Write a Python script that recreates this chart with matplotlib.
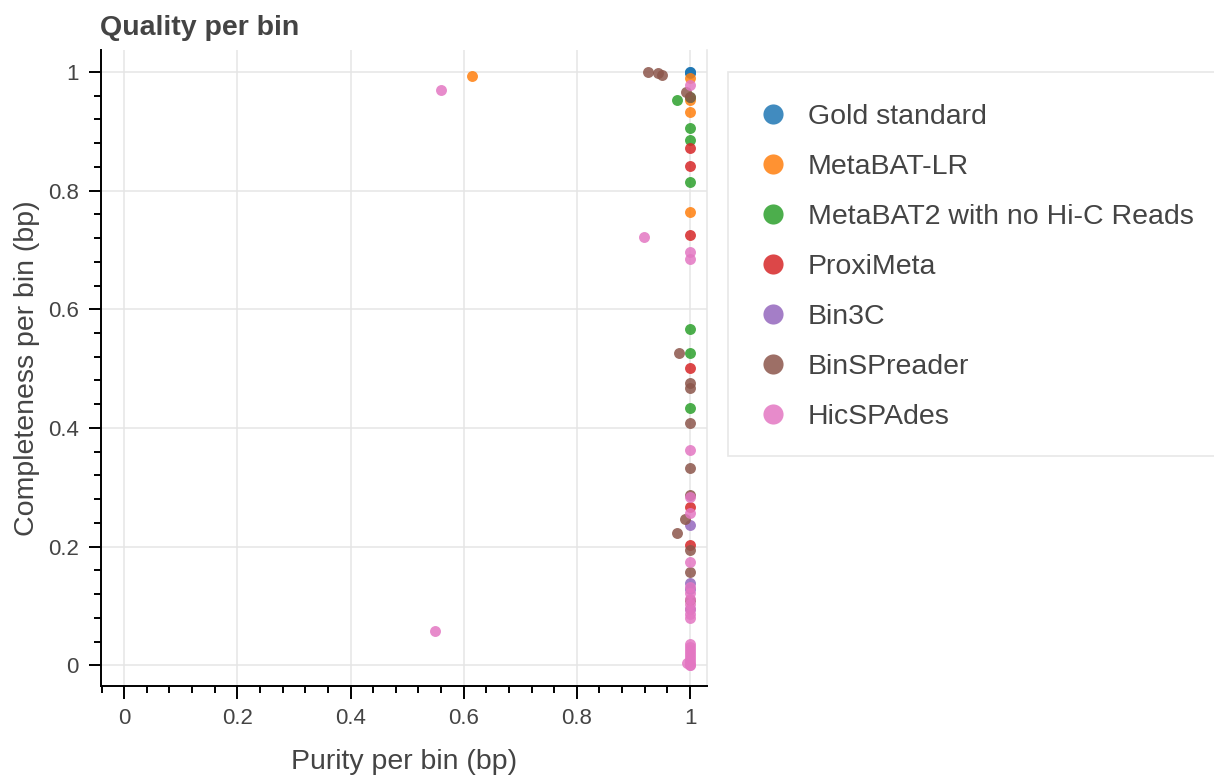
import matplotlib
matplotlib.use("Agg")
import matplotlib.pyplot as plt
from matplotlib.lines import Line2D
from matplotlib.patches import Rectangle
from matplotlib.ticker import MultipleLocator, FuncFormatter

plt.rcParams['font.family'] = ['Liberation Sans', 'DejaVu Sans']

# series names and colours (Category10)
names = ['Gold standard', 'MetaBAT-LR', 'MetaBAT2 with no Hi-C Reads',
         'ProxiMeta', 'Bin3C', 'BinSPreader', 'HicSPAdes']
colors = ['#1f77b4', '#ff7f0e', '#2ca02c', '#d62728', '#9467bd', '#8c564b', '#e377c2']

# purity / completeness per bin
gold_purity = [1.0, 1.0, 1.0]
gold_compl = [1.0, 1.0, 0.998]

metabat_lr_purity = [0.615, 1.0, 1.0, 1.0, 1.0]
metabat_lr_compl = [0.993, 0.99, 0.953, 0.933, 0.764]

metabat2_purity = [0.977, 1.0, 1.0, 1.0, 1.0, 1.0, 1.0, 1.0]
metabat2_compl = [0.953, 0.958, 0.906, 0.886, 0.814, 0.566, 0.527, 0.434]

proximeta_purity = [1.0, 1.0, 1.0, 1.0, 1.0, 1.0]
proximeta_compl = [0.872, 0.842, 0.726, 0.501, 0.266, 0.202]

bin3c_purity = [1.0, 1.0, 1.0, 1.0]
bin3c_compl = [0.236, 0.138, 0.128, 0.094]

binspreader_purity = [0.926, 0.944, 0.950, 0.993, 1.0, 0.981, 1.0, 1.0, 1.0,
                      1.0, 1.0, 0.991, 0.977, 1.0, 1.0, 1.0]
binspreader_compl = [1.0, 0.999, 0.995, 0.966, 0.958, 0.526, 0.476, 0.468, 0.408,
                     0.333, 0.287, 0.247, 0.223, 0.194, 0.157, 0.11]

hicspades_purity = [0.560, 1.0, 0.918, 1.0, 1.0, 1.0, 1.0, 1.0, 1.0, 1.0, 1.0,
                    1.0, 1.0, 1.0, 1.0, 1.0, 0.549, 1.0, 1.0, 1.0, 1.0, 1.0,
                    1.0, 1.0, 0.995, 1.0, 1.0]
hicspades_compl = [0.970, 0.978, 0.721, 0.697, 0.685, 0.363, 0.283, 0.256, 0.174,
                   0.132, 0.122, 0.112, 0.104, 0.095, 0.087, 0.08, 0.057, 0.035,
                   0.03, 0.025, 0.02, 0.015, 0.01, 0.006, 0.003, 0.0, 0.0]

series = [(gold_purity, gold_compl), (metabat_lr_purity, metabat_lr_compl),
          (metabat2_purity, metabat2_compl), (proximeta_purity, proximeta_compl),
          (bin3c_purity, bin3c_compl), (binspreader_purity, binspreader_compl),
          (hicspades_purity, hicspades_compl)]

W, H = 1214, 782
fig = plt.figure(figsize=(W / 100, H / 100), dpi=100)
ax = fig.add_axes([101 / W, 1 - 686 / H, 606 / W, 636 / H])

for (px, cy), c in zip(series, colors):
    ax.scatter(px, cy, s=62, color=c, alpha=0.85, linewidths=0, zorder=3)

ax.set_xlim(-0.041, 1.030)
ax.set_ylim(-0.035, 1.037)

ax.xaxis.set_major_locator(MultipleLocator(0.2))
ax.yaxis.set_major_locator(MultipleLocator(0.2))
ax.xaxis.set_minor_locator(MultipleLocator(0.04))
ax.yaxis.set_minor_locator(MultipleLocator(0.04))
fmt = FuncFormatter(lambda v, p: '{:g}'.format(round(v, 2)))
ax.xaxis.set_major_formatter(fmt)
ax.yaxis.set_major_formatter(fmt)

ax.grid(True, which='major', color='#e5e5e5', linewidth=1.1, zorder=0)
ax.set_axisbelow(True)
ax.tick_params(which='major', direction='out', length=9, width=1.4,
               labelsize=16, labelcolor='#444444', pad=7)
ax.tick_params(which='minor', direction='out', length=5, width=1.4)

for s in ['left', 'bottom']:
    ax.spines[s].set_linewidth(1.4)
    ax.spines[s].set_color('black')
ax.spines['top'].set_visible(False)
ax.spines['right'].set_color('#e5e5e5')
ax.spines['right'].set_linewidth(1.1)

fig.text(100 / W, 1 - 35 / H, 'Quality per bin', fontsize=20.5, fontweight='bold',
         color='#444444', ha='left', va='baseline')
fig.text(404 / W, 1 - 762 / H, 'Purity per bin (bp)', fontsize=20.5,
         color='#444444', ha='center', va='center')
fig.text(27 / W, 1 - 368 / H, 'Completeness per bin (bp)', fontsize=20.5,
         color='#444444', ha='center', va='center', rotation=90)

# legend box
fig.patches.append(Rectangle((728 / W, 1 - 456 / H), 520 / W, 384 / H,
                             transform=fig.transFigure, facecolor='white',
                             edgecolor='#e8e8e8', linewidth=1.2))

handles = [Line2D([], [], linestyle='none', marker='o', markersize=14.5,
                  markerfacecolor=c, markeredgewidth=0, alpha=0.85) for c in colors]
leg = fig.legend(handles, names, loc='upper left', bbox_to_anchor=(759 / W, 1 - 104 / H),
                 frameon=False, fontsize=20.5, handlelength=1.0, handletextpad=0.72,
                 labelspacing=0.84, borderpad=0, borderaxespad=0)
for t in leg.get_texts():
    t.set_color('#444444')

fig.savefig('out.png', dpi=100)
